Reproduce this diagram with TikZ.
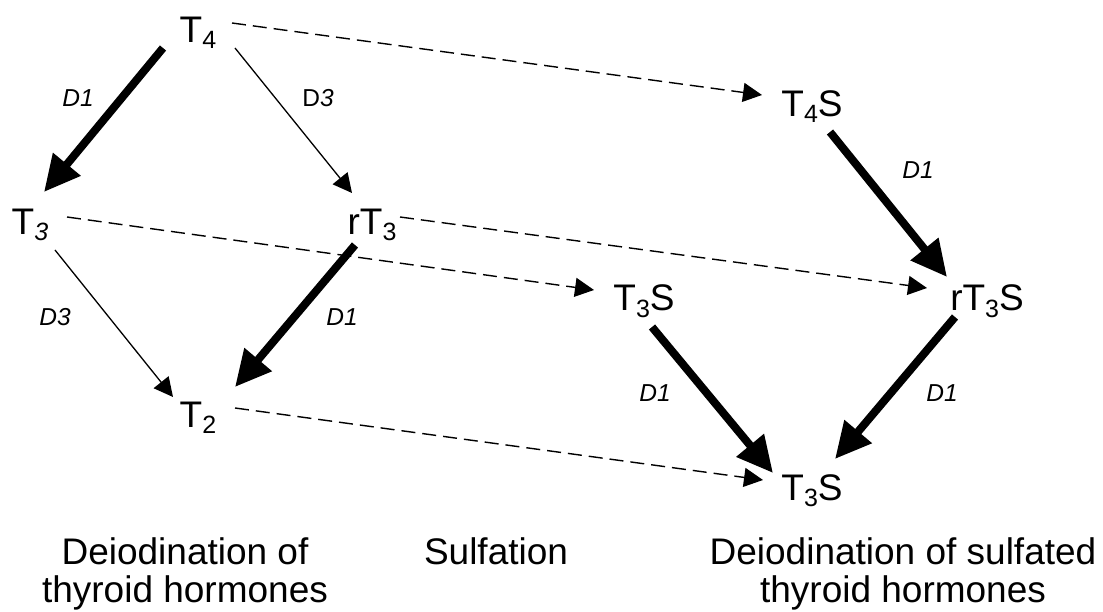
\documentclass[tikz,border=0pt]{standalone}
\usepackage{fontspec}
\setmainfont{Liberation Sans}
\usetikzlibrary{arrows.meta}
% lowered subscript digit in the molecule names
\newcommand\lowsub[1]{\raisebox{-6pt}{\fontsize{25}{25}\selectfont #1}}
\begin{document}
\begin{tikzpicture}[x=1pt,y=-1pt,
  hormone/.style={font=\fontsize{37}{38}\selectfont, inner sep=0pt, anchor=base},
  enzyme/.style={font=\fontsize{24.5}{24.5}\selectfont\itshape, inner sep=0pt},
  caption/.style={font=\fontsize{37}{38}\selectfont, inner sep=0pt, anchor=north, align=center},
  heavy/.style={line width=8pt, -{Triangle[length=36pt,width=34pt]}},
  light/.style={line width=1.3pt, -{Triangle[length=19pt,width=19pt]}},
  sulf/.style={line width=1.4pt, dash pattern=on 14pt off 7pt, -{Triangle[length=19pt,width=19pt]}}]
\useasboundingbox (0,0) rectangle (1103,612);

% thyroid hormones
\node[hormone] (t4)  at (198,43)  {T\lowsub{4}};
\node[hormone] (t3)  at (30,235)  {T\lowsub{\textit{3}}};
\node[hormone] (rt3) at (372,235) {rT\lowsub{3}};
\node[hormone] (t2)  at (198,427) {T\lowsub{2}};
% sulfated hormones
\node[hormone] (t4s)  at (812,117) {T\lowsub{4}S};
\node[hormone] (t3s)  at (644,311) {T\lowsub{3}S};
\node[hormone] (rt3s) at (987,311) {rT\lowsub{3}S};
\node[hormone] (t2s)  at (812,500) {T\lowsub{3}S};

% deiodination steps
\draw[heavy] ([shift={(-35,5)}]t4.base) -- ([shift={(14,-43)}]t3.base);
\draw[light] ([shift={(37,5)}]t4.base) -- ([shift={(-20,-42)}]rt3.base);
\draw[light] ([shift={(25,15)}]t3.base) -- ([shift={(-25,-30)}]t2.base);
\draw[heavy] ([shift={(-17,10)}]rt3.base) -- ([shift={(37,-40)}]t2.base);
\draw[heavy] ([shift={(18,15)}]t4s.base) -- ([shift={(-40,-34)}]rt3s.base);
\draw[heavy] ([shift={(8,16)}]t3s.base) -- ([shift={(-39,-27)}]t2s.base);
\draw[heavy] ([shift={(-32,6)}]rt3s.base) -- ([shift={(23,-41)}]t2s.base);

% sulfation steps
\draw[sulf] ([shift={(34,-20)}]t4.base) -- ([shift={(-50,-22)}]t4s.base);
\draw[sulf] ([shift={(37,-18)}]t3.base) -- ([shift={(-50,-21)}]t3s.base);
\draw[sulf] ([shift={(28,-18)}]rt3.base) -- ([shift={(-60,-23)}]rt3s.base);
\draw[sulf] ([shift={(37,-19)}]t2.base) -- ([shift={(-49,-20)}]t2s.base);

% enzyme labels
\node[enzyme] (e1) at (78,98)   {D1};
\node[enzyme] (e2) at (318,98)  {\upshape D\itshape 3};
\node[enzyme] (e3) at (55,317)  {D3};
\node[enzyme] (e4) at (342,317) {D1};
\node[enzyme] (e5) at (918,170) {D1};
\node[enzyme] (e6) at (655,393) {D1};
\node[enzyme] (e7) at (942,393) {D1};

% column captions
\node[caption] (c1) at (185,537) {Deiodination of\\thyroid hormones};
\node[caption] (c2) at (496,537) {Sulfation};
\node[caption] (c3) at (903,537) {Deiodination of sulfated\\thyroid hormones};
\end{tikzpicture}
\end{document}
